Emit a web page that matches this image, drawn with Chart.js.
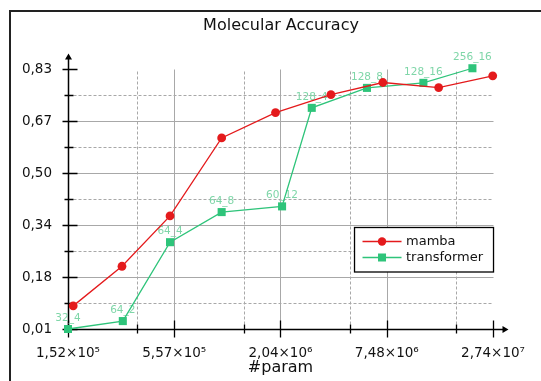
<!DOCTYPE html>
<html>
<head>
<meta charset="utf-8">
<script src="https://cdn.jsdelivr.net/npm/chart.js@4.4.1/dist/chart.umd.min.js"></script>
<style>
  html, body { margin: 0; padding: 0; background: #fff; overflow: hidden; }
  #wrap { width: 541px; height: 381px; }
</style>
</head>
<body>
<div id="wrap"><canvas id="graph"></canvas></div>
<script>
// Axis ticks (x is log scale, number of parameters)
var xTickValues = [1.52e5, 5.57e5, 2.04e6, 7.48e6, 2.74e7];
var xTickLabels = ['1,52×10⁵', '5,57×10⁵', '2,04×10⁶', '7,48×10⁶', '2,74×10⁷'];
var yTickValues = [0.01, 0.174, 0.338, 0.502, 0.666, 0.83];
var yTickLabels = ['0,01', '0,18', '0,34', '0,50', '0,67', '0,83'];

// Series
var mambaParams = [1.62e5, 2.94e5, 5.29e5, 9.94e5, 1.92e6, 3.78e6, 7.13e6, 1.41e7, 2.73e7];
var mambaAcc = [0.083, 0.208, 0.367, 0.613, 0.693, 0.750, 0.788, 0.772, 0.809];
var transformerParams = [1.52e5, 2.97e5, 5.29e5, 9.94e5, 2.08e6, 2.99e6, 5.87e6, 1.17e7, 2.13e7];
var transformerAcc = [0.01, 0.035, 0.284, 0.379, 0.397, 0.708, 0.771, 0.787, 0.833];
var transformerLabels = ['32_4', '64_2', '64_4', '64_8', '60_12', '128_4', '128_8', '128_16', '256_16'];

var FONT = 'DejaVu Sans';
var RED = '#e41a1c';
var GREEN = '#2ec47a';
var LABEL_GREEN = '#7fd6a8';
var GRID = '#a8a8a8';

function toPoints(xs, ys) {
    return xs.map(function (x, i) { return { x: x, y: ys[i] }; });
}

// minor ticks sit halfway (in value) between the major ones
function midpoints(arr) {
    var out = [];
    for (var i = 0; i < arr.length - 1; i++) out.push((arr[i] + arr[i + 1]) / 2);
    return out;
}

function crisp(v) { return Math.round(v) + 0.5; }

var decorations = {
    id: 'decorations',
    beforeDatasetsDraw: function (chart) {
        var ctx = chart.ctx, xs = chart.scales.x, ys = chart.scales.y;
        var x0 = crisp(xs.getPixelForValue(xTickValues[0]));
        var x1 = crisp(xs.getPixelForValue(xTickValues[xTickValues.length - 1]));
        var y0 = crisp(ys.getPixelForValue(yTickValues[0]));
        var y1 = crisp(ys.getPixelForValue(yTickValues[yTickValues.length - 1]));
        var xMinor = midpoints(xTickValues), yMinor = midpoints(yTickValues);

        ctx.save();
        ctx.strokeStyle = GRID;
        ctx.lineWidth = 1;
        // solid grid on inner major ticks
        ctx.beginPath();
        xTickValues.slice(1, -1).forEach(function (v) {
            var px = crisp(xs.getPixelForValue(v));
            ctx.moveTo(px, y0); ctx.lineTo(px, y1);
        });
        yTickValues.slice(1, -1).forEach(function (v) {
            var py = crisp(ys.getPixelForValue(v));
            ctx.moveTo(x0, py); ctx.lineTo(x1, py);
        });
        ctx.stroke();
        // dashed grid on minor ticks
        ctx.setLineDash([3, 2]);
        ctx.beginPath();
        xMinor.forEach(function (v) {
            var px = crisp(xs.getPixelForValue(v));
            ctx.moveTo(px, y0); ctx.lineTo(px, y1);
        });
        yMinor.forEach(function (v) {
            var py = crisp(ys.getPixelForValue(v));
            ctx.moveTo(x0, py); ctx.lineTo(x1, py);
        });
        ctx.stroke();
        ctx.setLineDash([]);

        // axes with arrows
        ctx.strokeStyle = '#000';
        ctx.fillStyle = '#000';
        ctx.lineWidth = 1.5;
        ctx.beginPath();
        ctx.moveTo(x0, y0); ctx.lineTo(x1 + 12, y0);
        ctx.moveTo(x0, y0); ctx.lineTo(x0, y1 - 12);
        ctx.stroke();
        ctx.beginPath();
        ctx.moveTo(x1 + 15, y0); ctx.lineTo(x1 + 9, y0 - 3.5); ctx.lineTo(x1 + 9, y0 + 3.5); ctx.closePath();
        ctx.moveTo(x0, y1 - 16); ctx.lineTo(x0 - 3.5, y1 - 10); ctx.lineTo(x0 + 3.5, y1 - 10); ctx.closePath();
        ctx.fill();

        // tick marks
        ctx.lineWidth = 1.3;
        ctx.beginPath();
        xTickValues.forEach(function (v) {
            var px = crisp(xs.getPixelForValue(v));
            ctx.moveTo(px, y0 - 9); ctx.lineTo(px, y0 + 8);
        });
        xMinor.forEach(function (v) {
            var px = crisp(xs.getPixelForValue(v));
            ctx.moveTo(px, y0 - 5); ctx.lineTo(px, y0 + 4);
        });
        yTickValues.forEach(function (v) {
            var py = crisp(ys.getPixelForValue(v));
            ctx.moveTo(x0 - 6, py); ctx.lineTo(x0 + 9, py);
        });
        yMinor.forEach(function (v) {
            var py = crisp(ys.getPixelForValue(v));
            ctx.moveTo(x0 - 4, py); ctx.lineTo(x0 + 5, py);
        });
        ctx.stroke();

        // labels above transformer points, under the lines
        var meta = chart.getDatasetMeta(1);
        ctx.font = '10.5px "' + FONT + '"';
        ctx.fillStyle = LABEL_GREEN;
        ctx.textAlign = 'center';
        ctx.textBaseline = 'middle';
        meta.data.forEach(function (pt, i) {
            ctx.fillText(transformerLabels[i], pt.x, pt.y - 11);
        });
        ctx.restore();
    },
    afterDraw: function (chart) {
        var ctx = chart.ctx;
        var area = chart.chartArea;
        ctx.save();
        // legend box
        var bx = area.right - 138.5, by = 227.5, bw = 139, bh = 44.5;
        ctx.fillStyle = '#fff';
        ctx.fillRect(bx, by, bw, bh);
        ctx.strokeStyle = '#000';
        ctx.lineWidth = 1.3;
        ctx.strokeRect(bx, by, bw, bh);
        ctx.font = '13px "' + FONT + '"';
        ctx.textBaseline = 'middle';
        ctx.textAlign = 'left';
        chart.data.datasets.forEach(function (ds, i) {
            var ry = by + 14 + i * 16;
            ctx.strokeStyle = ds.borderColor;
            ctx.lineWidth = 1.3;
            ctx.beginPath();
            ctx.moveTo(bx + 8, ry); ctx.lineTo(bx + 47, ry);
            ctx.stroke();
            ctx.fillStyle = ds.backgroundColor;
            if (ds.pointStyle === 'rect') {
                ctx.fillRect(bx + 23.5, ry - 4, 8, 8);
            } else {
                ctx.beginPath();
                ctx.arc(bx + 27.5, ry, 4.2, 0, Math.PI * 2);
                ctx.fill();
            }
            ctx.fillStyle = '#111';
            ctx.fillText(ds.label, bx + 51.5, ry + 0.5);
        });
        // outer frame (only its top and left edges fall inside the picture)
        ctx.strokeStyle = '#222';
        ctx.lineWidth = 2;
        ctx.beginPath();
        ctx.moveTo(10, 400); ctx.lineTo(10, 11); ctx.lineTo(560, 11);
        ctx.stroke();
        ctx.restore();
    }
};

var canvas = document.getElementById('graph');

var chart = new Chart(canvas, {
    type: 'line',
    data: {
        datasets: [{
            label: 'mamba',
            data: toPoints(mambaParams, mambaAcc),
            borderColor: RED,
            backgroundColor: RED,
            borderWidth: 1.3,
            pointStyle: 'circle',
            pointRadius: 4.4,
            pointBorderWidth: 0,
            clip: false
        }, {
            label: 'transformer',
            data: toPoints(transformerParams, transformerAcc),
            borderColor: GREEN,
            backgroundColor: GREEN,
            borderWidth: 1.3,
            pointStyle: 'rect',
            pointRadius: 5.7,
            pointBorderWidth: 0,
            clip: false
        }]
    },
    options: {
        responsive: true,
        maintainAspectRatio: false,
        animation: false,
        layout: { padding: { left: 21, right: 0, top: 0, bottom: 0 } },
        plugins: {
            legend: { display: false },
            tooltip: { enabled: false },
            title: {
                display: true,
                text: 'Molecular Accuracy',
                color: '#111',
                font: { family: FONT, size: 16, weight: 'normal' },
                padding: { top: 16, bottom: 34 }
            }
        },
        scales: {
            x: {
                type: 'logarithmic',
                min: xTickValues[0],
                max: xTickValues[xTickValues.length - 1],
                afterBuildTicks: function (scale) {
                    scale.ticks = xTickValues.map(function (v) { return { value: v }; });
                },
                afterFit: function (scale) { scale.height = 52; },
                grid: { display: false, drawTicks: false },
                border: { display: false },
                ticks: {
                    autoSkip: false,
                    maxRotation: 0,
                    padding: 16,
                    color: '#111',
                    font: { family: FONT, size: 13.5 },
                    callback: function (v, i) { return xTickLabels[i]; }
                },
                title: {
                    display: true,
                    text: '#param',
                    color: '#111',
                    font: { family: FONT, size: 16 },
                    padding: { top: 0, bottom: 4 }
                }
            },
            y: {
                min: yTickValues[0],
                max: yTickValues[yTickValues.length - 1],
                afterBuildTicks: function (scale) {
                    scale.ticks = yTickValues.map(function (v) { return { value: v }; });
                },
                afterFit: function (scale) { scale.width = 47; },
                grid: { display: false, drawTicks: false },
                border: { display: false },
                ticks: {
                    padding: 16,
                    color: '#111',
                    font: { family: FONT, size: 13.5 },
                    callback: function (v, i) { return yTickLabels[i]; }
                }
            },
            // empty axis that only reserves the space on the right
            yRight: {
                position: 'right',
                afterFit: function (scale) { scale.width = 45; },
                grid: { display: false, drawTicks: false },
                border: { display: false },
                ticks: { display: false }
            }
        }
    },
    plugins: [decorations]
});
</script>
</body>
</html>
